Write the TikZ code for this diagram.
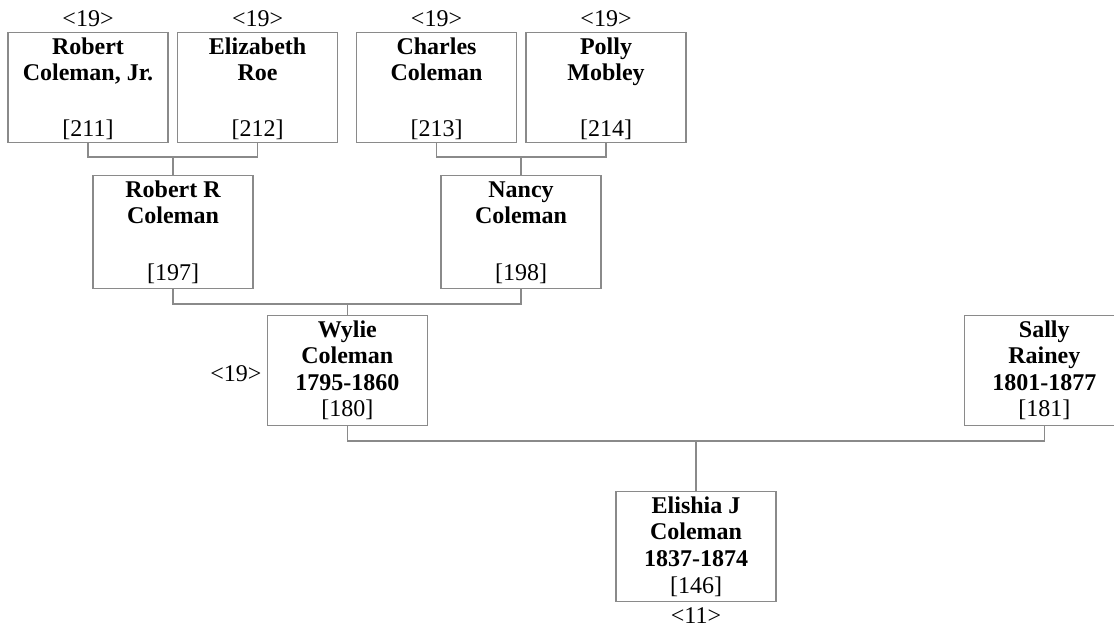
\documentclass[tikz,border=0pt]{standalone}
\usepackage{fontspec}
\setmainfont{Liberation Serif}
\definecolor{lg}{RGB}{138,138,138}
\begin{document}
\begin{tikzpicture}[x=0.75pt,y=-0.75pt,
  font=\fontsize{18pt}{19.9pt}\selectfont,
  box/.style={draw=lg, line width=0.8pt, minimum width=120pt, minimum height=82.5pt, inner sep=0pt},
  nm/.style={font=\fontsize{18pt}{19.9pt}\selectfont\bfseries, anchor=base, inner sep=0pt},
  idx/.style={anchor=base, inner sep=0pt},
  conn/.style={draw=lg, line width=0.8pt}]
\useasboundingbox (0,0) rectangle (1114,627);
\clip (0,0) rectangle (1114,627);

% boxes
\node[box] (p211) at (88,87.7) {};
\node[box] (p212) at (257.6,87.7) {};
\node[box] (p213) at (436.5,87.7) {};
\node[box] (p214) at (606,87.7) {};
\node[box, minimum height=84.75pt] (p197) at (173,232) {};
\node[box, minimum height=84.75pt] (p198) at (521,232) {};
\node[box] (p180) at (347.3,370.7) {};
\node[box] (p181) at (1044.3,370.7) {};
\node[box] (p146) at (696,546.7) {};

% generation 1 texts
\node[idx] (g211) at (88,26.7) {<19>};
\node[idx] (g212) at (257.6,26.7) {<19>};
\node[idx] (g213) at (436.5,26.7) {<19>};
\node[idx] (g214) at (606,26.7) {<19>};

\node[nm] (t211a) at (88,54.3) {Robert};
\node[nm] (t211b) at (88,80.8) {Coleman, Jr.};
\node[idx] (t211c) at (88,136.7) {[211]};
\node[nm] (t212a) at (257.6,54.3) {Elizabeth};
\node[nm] (t212b) at (257.6,80.8) {Roe};
\node[idx] (t212c) at (257.6,136.7) {[212]};
\node[nm] (t213a) at (436.5,54.3) {Charles};
\node[nm] (t213b) at (436.5,80.8) {Coleman};
\node[idx] (t213c) at (436.5,136.7) {[213]};
\node[nm] (t214a) at (606,54.3) {Polly};
\node[nm] (t214b) at (606,80.8) {Mobley};
\node[idx] (t214c) at (606,136.7) {[214]};

% generation 2 texts
\node[nm] (t197a) at (173,197.1) {Robert R};
\node[nm] (t197b) at (173,223.6) {Coleman};
\node[idx] (t197c) at (173,281) {[197]};
\node[nm] (t198a) at (521,197.1) {Nancy};
\node[nm] (t198b) at (521,223.6) {Coleman};
\node[idx] (t198c) at (521,281) {[198]};

% generation 3 texts
\node[nm] (t180a) at (347.3,337.3) {Wylie};
\node[nm] (t180b) at (347.3,363.8) {Coleman};
\node[nm] (t180c) at (347.3,390.3) {1795-1860};
\node[idx] (t180d) at (347.3,416.8) {[180]};
\node[anchor=base east, inner sep=0pt] (g180) at (261.7,381.7) {<19>};
\node[nm] (t181a) at (1044.3,337.3) {Sally};
\node[nm] (t181b) at (1044.3,363.8) {Rainey};
\node[nm] (t181c) at (1044.3,390.3) {1801-1877};
\node[idx] (t181d) at (1044.3,416.8) {[181]};

% generation 4 texts
\node[nm] (t146a) at (696,513.3) {Elishia J};
\node[nm] (t146b) at (696,539.8) {Coleman};
\node[nm] (t146c) at (696,566.3) {1837-1874};
\node[idx] (t146d) at (696,593.5) {[146]};
\node[idx] (g146) at (696,623.3) {<11>};

% junctions
\coordinate (m1) at (173,157);
\coordinate (m2) at (521,157);
\coordinate (m3) at (347.3,304);
\coordinate (m4) at (696,441);

% connectors
\draw[conn] (p211.south) |- (m1) -| (p212.south);
\draw[conn] (m1) -- (p197.north);
\draw[conn] (p213.south) |- (m2) -| (p214.south);
\draw[conn] (m2) -- (p198.north);
\draw[conn] (p197.south) |- (m3) -| (p198.south);
\draw[conn] (m3) -- (p180.north);
\draw[conn] (p180.south) |- (m4) -| (p181.south);
\draw[conn] (m4) -- (p146.north);
\end{tikzpicture}
\end{document}
